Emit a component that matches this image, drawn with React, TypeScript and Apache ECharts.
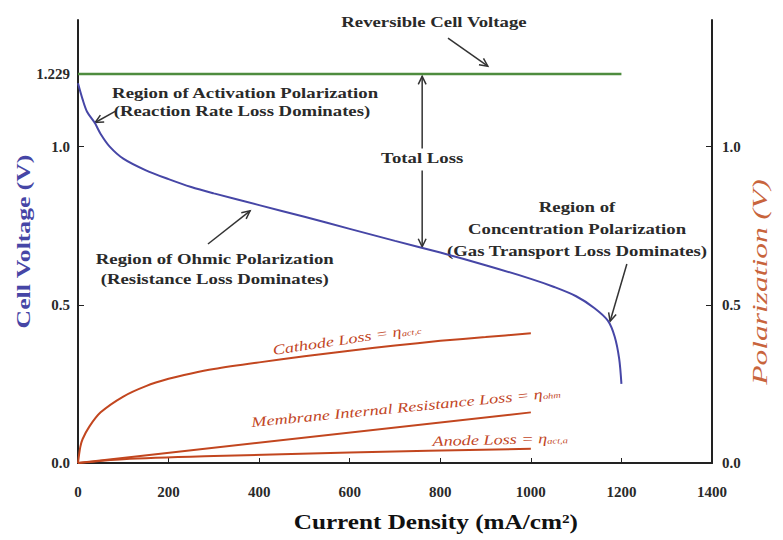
import React, { useEffect, useRef } from "react";
import * as echarts from "echarts";

// ---- data ----
const voltageCurrent = [0, 10, 20, 37, 50, 70, 100, 150, 200, 250, 300, 400, 500, 600, 700, 800, 900, 1000, 1050, 1100, 1140, 1170, 1185, 1195, 1200];
const cellVoltage = [1.2, 1.15, 1.11, 1.075, 1.04, 1.0, 0.962, 0.925, 0.897, 0.872, 0.852, 0.815, 0.778, 0.74, 0.702, 0.665, 0.625, 0.582, 0.557, 0.527, 0.49, 0.45, 0.4, 0.33, 0.25];
const reversibleCurrent = [0, 1200];
const reversibleVoltage = [1.229, 1.229];
const lossCurrent = [0, 5, 10, 25, 50, 100, 150, 200, 250, 300, 400, 500, 600, 700, 800, 900, 1000];
const cathodeLoss = [0, 0.05, 0.075, 0.115, 0.16, 0.21, 0.243, 0.266, 0.283, 0.297, 0.318, 0.337, 0.355, 0.371, 0.386, 0.398, 0.41];
const membraneCurrent = [0, 1000];
const membraneLoss = [0, 0.16];
const anodeCurrent = [0, 100, 300, 600, 1000];
const anodeLoss = [0, 0.012, 0.022, 0.033, 0.045];
const leftTicks = [0, 0.5, 1.0, 1.229];
const rightTicks = [0, 0.5, 1.0];

const zip = (xs: number[], ys: number[]) => xs.map((x, i) => [x, ys[i]]);

const SERIF = "'Liberation Serif', 'DejaVu Serif', serif";
const BLUE = "#4646a6";
const GREEN = "#4e8c3e";
const RED = "#c2461f";
const TXT = "#2a2a2a";

export default function App() {
  const ref = useRef<HTMLDivElement>(null);
  useEffect(() => {
    if (!ref.current) return;
    const chart = echarts.init(ref.current, undefined, { renderer: "svg" });
    const fmt = (v: number) => (Math.abs(v - 1.229) < 1e-6 ? "1.229" : v.toFixed(1));
    const axisLabelStyle = { fontFamily: SERIF, fontWeight: "bold" as const, fontSize: 15, color: TXT };
    chart.setOption({
      animation: false,
      grid: { left: 78, right: 71, top: 20, bottom: 77 },
      xAxis: {
        type: "value",
        min: 0,
        max: 1400,
        interval: 200,
        axisLine: { show: true, lineStyle: { color: "#222", width: 2 } },
        axisTick: { show: true, inside: true, length: 5, lineStyle: { color: "#222" } },
        axisLabel: { ...axisLabelStyle, margin: 21, formatter: (v: number) => String(v) },
        splitLine: { show: false },
      },
      yAxis: [
        {
          type: "value",
          min: 0,
          max: 1.4,
          position: "left",
          axisLine: { show: true, onZero: false, lineStyle: { color: "#222", width: 2 } },
          axisTick: { show: true, inside: true, length: 6, customValues: leftTicks, lineStyle: { color: "#222" } },
          axisLabel: { ...axisLabelStyle, margin: 8, customValues: leftTicks, formatter: fmt },
          splitLine: { show: false },
        },
        {
          type: "value",
          min: 0,
          max: 1.4,
          position: "right",
          axisLine: { show: true, onZero: false, lineStyle: { color: "#222", width: 2 } },
          axisTick: { show: true, inside: true, length: 6, customValues: rightTicks, lineStyle: { color: "#222" } },
          axisLabel: { ...axisLabelStyle, margin: 10, customValues: rightTicks, formatter: fmt },
          splitLine: { show: false },
        },
      ],
      series: [
        {
          type: "line",
          name: "Reversible Cell Voltage",
          data: zip(reversibleCurrent, reversibleVoltage),
          showSymbol: false,
          lineStyle: { color: GREEN, width: 2.5 },
          yAxisIndex: 0,
        },
        {
          type: "line",
          name: "Cell Voltage",
          data: zip(voltageCurrent, cellVoltage),
          showSymbol: false,
          smooth: 0.3,
          lineStyle: { color: BLUE, width: 2 },
          yAxisIndex: 0,
        },
        {
          type: "line",
          name: "Cathode Loss",
          data: zip(lossCurrent, cathodeLoss),
          showSymbol: false,
          smooth: 0.3,
          lineStyle: { color: RED, width: 2 },
          yAxisIndex: 1,
        },
        {
          type: "line",
          name: "Membrane Loss",
          data: zip(membraneCurrent, membraneLoss),
          showSymbol: false,
          lineStyle: { color: RED, width: 2 },
          yAxisIndex: 1,
        },
        {
          type: "line",
          name: "Anode Loss",
          data: zip(anodeCurrent, anodeLoss),
          showSymbol: false,
          smooth: 0.3,
          lineStyle: { color: RED, width: 2 },
          yAxisIndex: 1,
        },
      ],
    });

    const P = (x: number, y: number) => chart.convertToPixel({ xAxisIndex: 0, yAxisIndex: 0 }, [x, y]) as number[];

    const label = (x: number, y: number, text: string) => {
      const [px, py] = P(x, y);
      return {
        type: "text",
        x: px,
        y: py,
        scaleX: 1.25,
        style: {
          text,
          fontFamily: SERIF,
          fontWeight: "bold",
          fontSize: 15,
          fill: TXT,
          align: "center",
          verticalAlign: "middle",
        },
      };
    };

    const arrow = (x1: number, y1: number, x2: number, y2: number) => {
      const [a, b] = P(x1, y1);
      const [c, d] = P(x2, y2);
      const ang = Math.atan2(d - b, c - a);
      const L = 9;
      const w = 0.45;
      const h1 = [c - L * Math.cos(ang - w), d - L * Math.sin(ang - w)];
      const h2 = [c - L * Math.cos(ang + w), d - L * Math.sin(ang + w)];
      return [
        { type: "line", shape: { x1: a, y1: b, x2: c, y2: d }, style: { stroke: "#333", lineWidth: 1.5 } },
        { type: "polyline", shape: { points: [h1, [c, d], h2] }, style: { stroke: "#333", lineWidth: 1.5, fill: null } },
      ];
    };

    const redLabel = (x: number, y: number, main: string, sub: string, rot: number) => {
      const [px, py] = P(x, y);
      return {
        type: "text",
        x: px,
        y: py,
        rotation: rot,
        scaleX: 1.3,
        style: {
          text: `{m|${main} = η}{s|${sub}}`,
          align: "center",
          verticalAlign: "middle",
          rich: {
            m: { fontFamily: SERIF, fontStyle: "italic", fontSize: 14, fill: RED, color: RED },
            s: { fontFamily: SERIF, fontStyle: "italic", fontSize: 8, fill: RED, color: RED, padding: [5, 0, 0, 0] },
          },
        },
      };
    };

    const [, ly] = P(0, 0.7);
    const [rx] = P(1400, 0);
    const [cx] = P(790, 0);
    const [, by] = P(0, 0);

    chart.setOption({
      graphic: [
        label(786, 1.394, "Reversible Cell Voltage"),
        ...arrow(817, 1.343, 905, 1.254),
        label(369, 1.168, "Region of Activation Polarization"),
        label(362, 1.111, "(Reaction Rate Loss Dominates)"),
        ...arrow(82, 1.111, 38, 1.076),
        label(760, 0.962, "Total Loss"),
        ...arrow(760, 0.994, 760, 1.222),
        ...arrow(760, 0.924, 760, 0.683),
        label(302, 0.644, "Region of Ohmic Polarization"),
        label(302, 0.581, "(Resistance Loss Dominates)"),
        ...arrow(287, 0.692, 380, 0.797),
        label(1102, 0.81, "Region of"),
        label(1102, 0.74, "Concentration Polarization"),
        label(1102, 0.67, "(Gas Transport Loss Dominates)"),
        ...arrow(1212, 0.629, 1175, 0.448),
        redLabel(594, 0.39, "Cathode Loss", "act,c", 0.15),
        redLabel(724, 0.175, "Membrane Internal Resistance Loss", "ohm", 0.098),
        redLabel(932, 0.073, "Anode Loss", "act,a", 0.026),
        {
          type: "text",
          x: 24,
          y: ly,
          rotation: Math.PI / 2,
          scaleX: 1.35,
          style: {
            text: "Cell Voltage (V)",
            fontFamily: SERIF,
            fontWeight: "bold",
            fontSize: 19,
            fill: BLUE,
            align: "center",
            verticalAlign: "middle",
          },
        },
        {
          type: "text",
          x: rx + 48,
          y: 282,
          rotation: Math.PI / 2,
          scaleX: 1.5,
          style: {
            text: "Polarization (V)",
            fontFamily: SERIF,
            fontStyle: "italic",
            fontSize: 21,
            fill: "#c8643c",
            align: "center",
            verticalAlign: "middle",
          },
        },
        {
          type: "text",
          x: cx,
          y: by + 59,
          scaleX: 1.2,
          style: {
            text: "Current Density (mA/cm²)",
            fontFamily: SERIF,
            fontWeight: "bold",
            fontSize: 21,
            fill: "#111",
            align: "center",
            verticalAlign: "middle",
          },
        },
      ],
    });

    return () => chart.dispose();
  }, []);
  return <div ref={ref} style={{ position: "absolute", left: 0, top: 0, width: 783, height: 540 }} />;
}
